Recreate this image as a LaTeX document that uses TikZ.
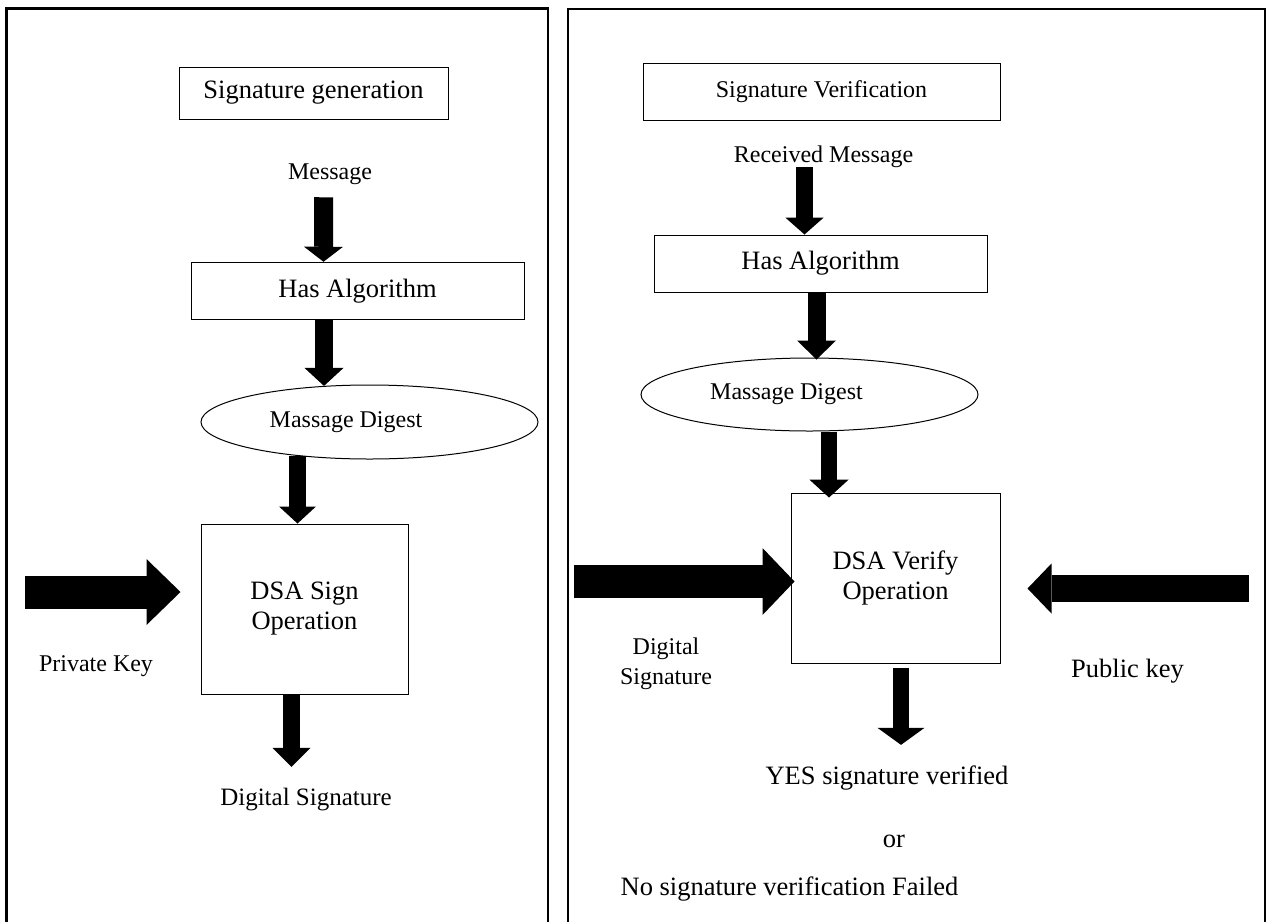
\documentclass[tikz,border=0pt]{standalone}
\usepackage{fontspec}
\setmainfont{Liberation Serif}
\usetikzlibrary{arrows.meta,shapes.geometric}

\tikzset{
  panel/.style={line width=2.5pt},
  box/.style={draw, line width=1pt, rectangle, inner sep=0pt, align=center,
              font=\fontsize{26.5pt}{30pt}\selectfont},
  oval/.style={draw, line width=1pt, ellipse, inner sep=0pt,
               font=\fontsize{24pt}{28pt}\selectfont},
  tsmall/.style={inner sep=0pt, text height=15.8pt, text depth=5.3pt,
                 font=\fontsize{24pt}{29pt}\selectfont},
  tmid/.style={inner sep=0pt, text height=16.5pt, text depth=5.5pt,
               font=\fontsize{25pt}{30pt}\selectfont},
  tlarge/.style={inner sep=0pt, text height=17.5pt, text depth=5.8pt,
                 font=\fontsize{26.5pt}{31pt}\selectfont},
  blockarrow/.style n args={3}{line width=#1,
      -{Triangle[width=#2,length=#3,line width=0pt]}}
}

\begin{document}
\begin{tikzpicture}[x=1pt,y=-1pt]
\useasboundingbox (0,0) rectangle (1267,922);

% panel frames (open at the bottom)
\draw[panel] (6.5,922) -- (6.5,8.5) -- (548,8.5) -- (548,922);
\draw[panel, line width=2pt] (567.5,922) -- (567.5,8.5) -- (1265,8.5) -- (1265,922);

% ---------------- signature generation ----------------
\node[box, minimum width=269pt, minimum height=52pt] (sg) at (313.5,93) {Signature generation};
\node[tsmall] (msg) at (330,174) {Message};
\node[box, minimum width=333pt, minimum height=57.5pt] (ha1) at (357.5,291) {Has Algorithm};
\node[oval, minimum width=337pt, minimum height=74pt] (md1) at (369.5,422) {Massage Digest\hspace*{47pt}};
\node[box, minimum width=207pt, minimum height=170pt] (ds1) at (304.5,609) {DSA Sign\\Operation};
\node[tsmall] (pk) at (96,666) {Private Key};
\node[tmid] (dsig) at (306,800) {Digital Signature};
\coordinate (pkin) at (25,592);

\draw[blockarrow={19pt}{39pt}{15pt}] ([xshift=-6.4pt,yshift=-12.5pt]msg.south) -- ([xshift=-34pt]ha1.north);
\draw[blockarrow={18pt}{39pt}{18pt}] ([xshift=-33.5pt]ha1.south) -- ([xshift=-45.5pt,yshift=-1.4pt]md1.north);
\draw[blockarrow={17pt}{37pt}{17pt}] ([xshift=-72pt,yshift=3.5pt]md1.south) -- ([xshift=-7pt]ds1.north);
\draw[blockarrow={17pt}{38pt}{19pt}] ([xshift=-13pt]ds1.south) -- ([xshift=-14.5pt,yshift=22pt]dsig.north);
\draw[blockarrow={33pt}{66pt}{34pt}] (pkin) -- ([xshift=-20pt,yshift=17pt]ds1.west);

% ---------------- signature verification ----------------
\node[box, minimum width=357pt, minimum height=57pt, font=\fontsize{24pt}{28pt}\selectfont] (sv) at (821.5,91.5) {Signature Verification};
\node[tsmall] (rm) at (823.5,157) {Received Message};
\node[box, minimum width=333pt, minimum height=57pt] (ha2) at (820.5,263.5) {Has Algorithm};
\node[oval, minimum width=337pt, minimum height=73pt] (md2) at (809.5,394.5) {Massage Digest\hspace*{46pt}};
\node[box, minimum width=209pt, minimum height=170pt] (ds2) at (895.5,578) {DSA Verify\\Operation};
\node[inner sep=0pt, align=center, font=\fontsize{24pt}{30pt}\selectfont] (dsg) at (666,664) {Digital\\Signature};
\node[tlarge] (pub) at (1127.5,672) {Public key};
\node[tlarge] (yes) at (887,779) {YES signature verified};
\node[tlarge] (or) at (894,842) {or};
\node[tlarge] (no) at (789.5,890) {No signature verification Failed};
\coordinate (dsin) at (573.5,581.5);
\coordinate (pubin) at (1249,588.5);

\draw[blockarrow={17pt}{38.5pt}{17pt}] ([xshift=-19pt,yshift=0.6pt]rm.south) -- ([xshift=-16pt]ha2.north);
\draw[blockarrow={18pt}{39pt}{19pt}] ([xshift=-4pt]ha2.south) -- ([xshift=7pt,yshift=-2pt]md2.north);
\draw[blockarrow={16.5pt}{39.5pt}{18pt}] ([xshift=19.5pt]md2.south) -- ([xshift=-66.5pt,yshift=-5pt]ds2.north);
\draw[blockarrow={16pt}{47pt}{17pt}] ([xshift=5.5pt,yshift=-4pt]ds2.south) -- ([xshift=14pt,yshift=22.3pt]yes.north);
\draw[blockarrow={33pt}{67pt}{32pt}] (dsin) -- ([xshift=4pt,yshift=-3.5pt]ds2.west);
\draw[blockarrow={27pt}{50pt}{24pt}] (pubin) -- ([xshift=27pt,yshift=-10.5pt]ds2.east);

\end{tikzpicture}
\end{document}
